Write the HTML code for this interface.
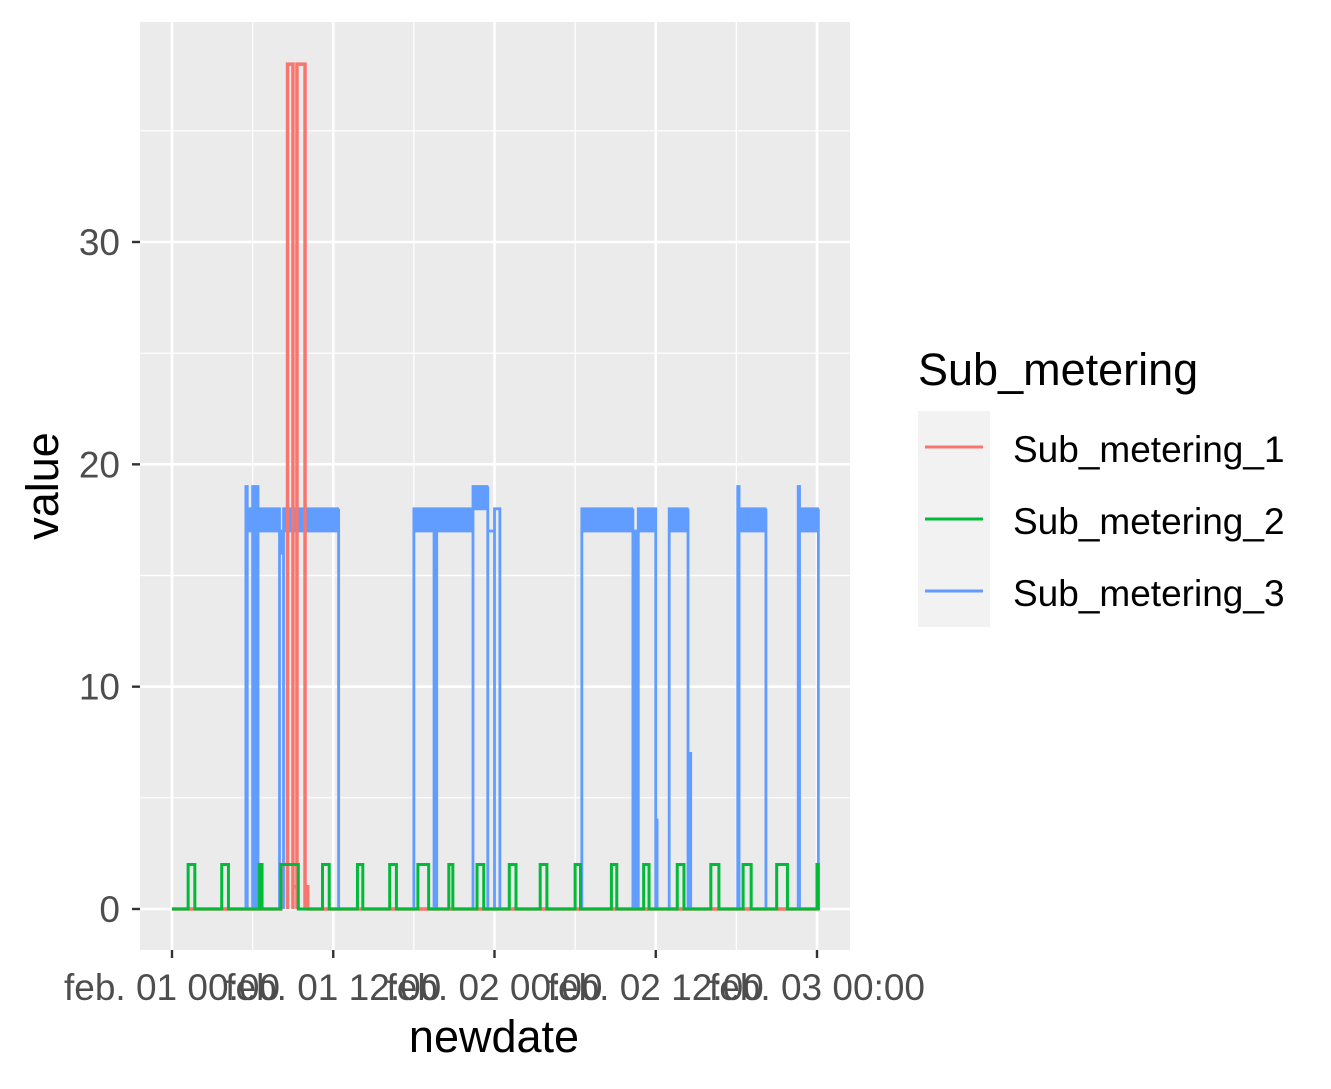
<!DOCTYPE html>
<html><head><meta charset="utf-8"><style>
body{margin:0;background:#fff;}
svg text{font-family:"Liberation Sans",Arial,sans-serif;}
</style></head><body>
<svg id="chart" width="1331" height="1084" xmlns="http://www.w3.org/2000/svg">
<rect x="140" y="22" width="710" height="928" fill="#ebebeb"/>
<g id="grid"></g>
<g id="series"></g>
<g id="axes"></g>
<text x="494" y="1052" font-size="45" text-anchor="middle" fill="#000">newdate</text>
<text transform="translate(58,486) rotate(-90)" font-size="45" text-anchor="middle" fill="#000">value</text>
<g>
<text x="918" y="385" font-size="45" fill="#000">Sub_metering</text>
<rect x="918" y="411" width="72" height="216" fill="#f2f2f2"/>
<line x1="925" x2="983" y1="447" y2="447" stroke="#F8766D" stroke-width="3"/>
<line x1="925" x2="983" y1="519" y2="519" stroke="#00BA38" stroke-width="3"/>
<line x1="925" x2="983" y1="591" y2="591" stroke="#619CFF" stroke-width="3"/>
<text x="1013" y="462" font-size="37" fill="#000">Sub_metering_1</text>
<text x="1013" y="534" font-size="37" fill="#000">Sub_metering_2</text>
<text x="1013" y="606" font-size="37" fill="#000">Sub_metering_3</text>
</g>
</svg>
<script>
// data (hours since feb 01 00:00)
const xTickHours=[0,12,24,36,48];
const xTickLabels=["feb. 01 00:00","feb. 01 12:00","feb. 02 00:00","feb. 02 12:00","feb. 03 00:00"];
const yTicks=[0,10,20,30];
// Sub_metering_1: [start,end,value]
const s1Blocks=[[8.1,8.6,2],[8.6,9.0,38],[9.0,9.3,1],[9.3,9.9,38],[9.9,10.1,1]];
// Sub_metering_2 pulses: [start,end,value]
const s2Blocks=[[1.2,1.7,2],[3.7,4.2,2],[6.5,6.7,2],[8.1,9.4,2],[11.2,11.7,2],[13.8,14.2,2],[16.2,16.7,2],[18.3,19.1,2],[20.6,20.9,2],[22.7,23.2,2],[25.1,25.6,2],[27.4,27.9,2],[30.0,30.4,2],[32.7,33.1,2],[35.1,35.5,2],[37.6,38.1,2],[40.1,40.7,2],[42.5,43.1,2],[45.0,45.8,2],[48.0,48.1,2]];
// Sub_metering_3 plateaus: [start,end,low,high]
const s3Blocks=[[5.5,5.6,19,19],[5.6,6.0,17,18],[6.0,6.1,19,19],[6.1,6.2,6,6],[6.3,6.4,19,19],[6.4,8.0,17,18],[8.0,8.3,16,17],[8.3,12.4,17,18],[18.0,19.5,17,18],[19.5,19.7,16,16],[19.7,22.4,17,18],[22.4,23.5,18,19],[23.5,24.0,17,17],[24.0,24.4,18,18],[30.5,34.3,17,18],[34.3,34.5,16,16],[34.5,34.7,1,17],[34.7,36.0,17,18],[36.0,36.1,4,4],[37.0,38.4,17,18],[38.4,38.6,7,7],[42.1,42.2,19,19],[42.2,44.2,17,18],[46.6,46.7,19,19],[46.7,48.1,17,18]];

const X0=140,X1=850,Y0=22,Y1=950;
const xs=h=>172+h*(817-172)/48;
const ys=v=>909-v*(909-242)/30;
const NS="http://www.w3.org/2000/svg";
const mk=(t,a,p)=>{const e=document.createElementNS(NS,t);for(const k in a)e.setAttribute(k,a[k]);p.appendChild(e);return e;};
const grid=document.getElementById('grid'),axes=document.getElementById('axes'),ser=document.getElementById('series');
for(let i=0;i<xTickHours.length-1;i++){const h=(xTickHours[i]+xTickHours[i+1])/2;
 const l=mk('line',{x1:xs(h),x2:xs(h),y1:Y0,y2:Y1,stroke:'#fff','stroke-width':1.2},grid);
 
 }
for(let i=-1;i<yTicks.length;i++){const v=i<0?-5:yTicks[i]+5;
 const l=mk('line',{x1:X0,x2:X1,y1:ys(v),y2:ys(v),stroke:'#fff','stroke-width':1.2},grid);
 
 }
xTickHours.forEach((h,i)=>{
 const l=mk('line',{x1:xs(h),x2:xs(h),y1:Y0,y2:Y1,stroke:'#fff','stroke-width':2.6},grid);
 
 
 const t=mk('line',{x1:xs(h),x2:xs(h),y1:Y1,y2:Y1+8,stroke:'#333','stroke-width':2.4},axes);
 
 
 const tx=mk('text',{x:xs(h),y:1000,'font-size':37,'text-anchor':'middle',fill:'#4d4d4d'},axes);tx.textContent=xTickLabels[i];
 
 
});
yTicks.forEach(v=>{
 const l=mk('line',{x1:X0,x2:X1,y1:ys(v),y2:ys(v),stroke:'#fff','stroke-width':2.6},grid);
 
 
 const t=mk('line',{x1:X0-8,x2:X0,y1:ys(v),y2:ys(v),stroke:'#333','stroke-width':2.4},axes);
 
 
 const tx=mk('text',{x:X0-20,y:ys(v)+13,'font-size':37,'text-anchor':'end',fill:'#4d4d4d'},axes);tx.textContent=v;
 
 
});
function stepPath(blocks,osc){
 let d=`M${xs(0)},${ys(0)}`;
 blocks.forEach(b=>{
  const [s,e]=b;const lo=b[2],hi=osc?b[3]:b[2];
  d+=`H${xs(s)}V${ys(hi)}`;
  if(osc&&hi!==lo){let x=xs(s),up=true;while(x<xs(e)){x=Math.min(x+2,xs(e));d+=`H${x}V${ys(up?lo:hi)}`;up=!up;}}
  else d+=`H${xs(e)}`;
  d+=`V${ys(0)}`;
 });
 d+=`H${xs(48)}`;return d;
}
const p3=mk('path',{d:stepPath(s3Blocks,true),fill:'none',stroke:'#619CFF','stroke-width':2.8},ser);


const p1=mk('path',{d:stepPath(s1Blocks,false),fill:'none',stroke:'#F8766D','stroke-width':3.5},ser);


const p2=mk('path',{d:stepPath(s2Blocks,false),fill:'none',stroke:'#00BA38','stroke-width':3},ser);


</script>
</body></html>
